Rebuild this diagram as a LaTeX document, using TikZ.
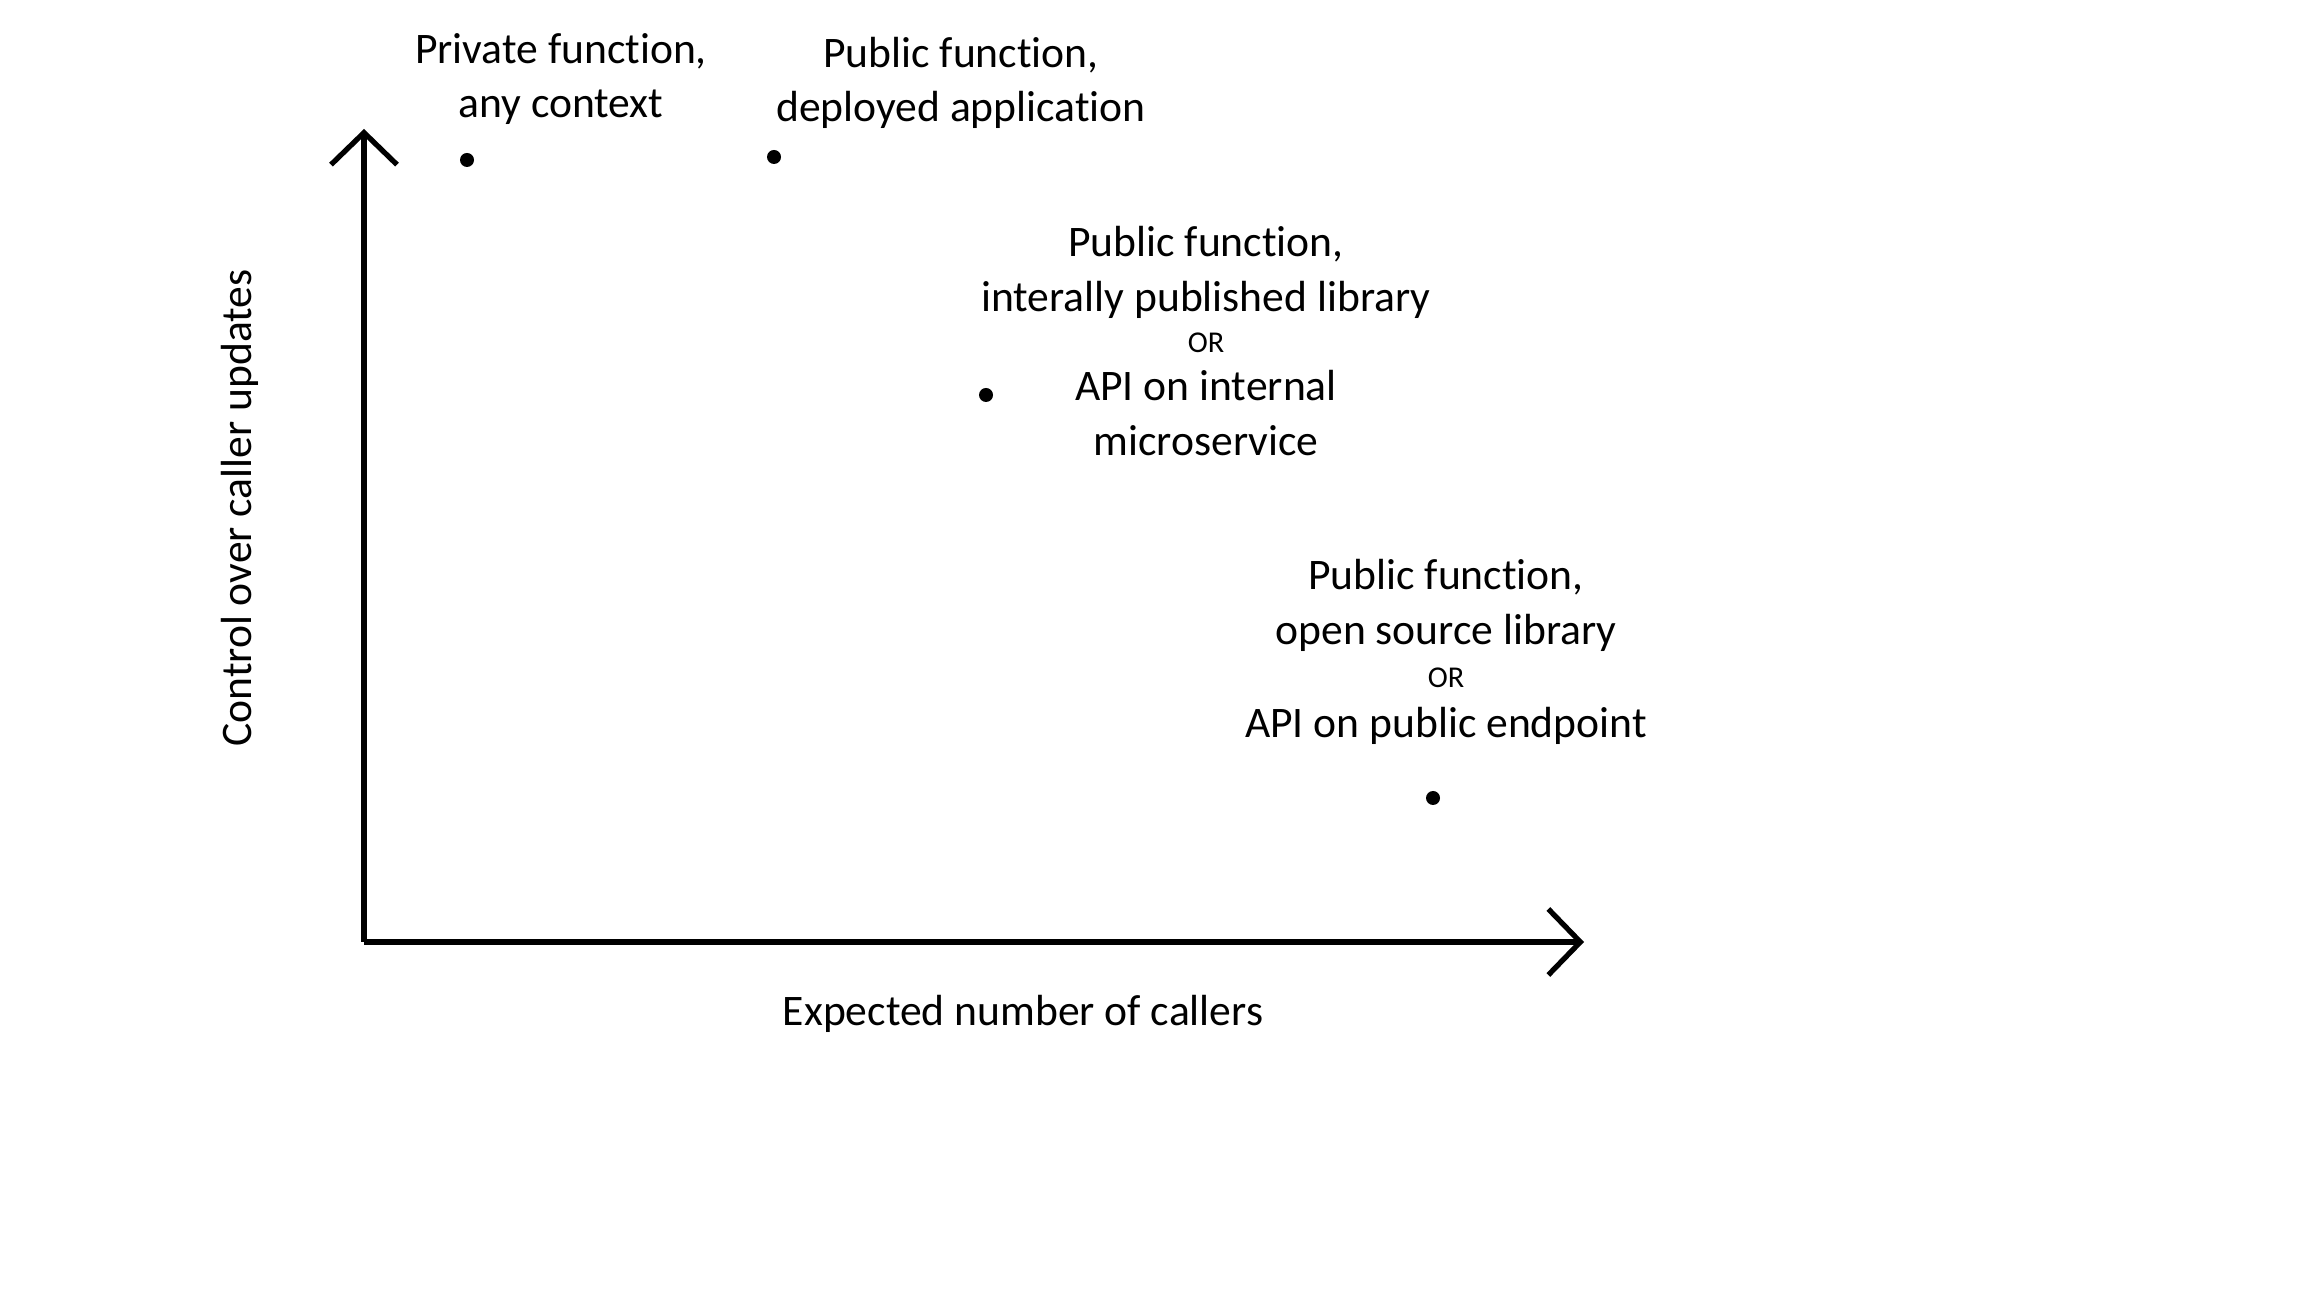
\documentclass[tikz,border=0pt]{standalone}
\usepackage{fontspec}
\setmainfont{Carlito}[Ligatures=NoCommon]
\usetikzlibrary{arrows.meta}

\begin{document}
\begin{tikzpicture}[
    axis/.style={line width=1.5pt, -{Straight Barb[length=3.2mm, width=6.6mm, line width=1.5pt]}},
    dot/.style={circle, fill=black, inner sep=0pt, minimum size=1.4mm},
    lbl/.style={align=center, inner sep=0pt, font=\fontsize{12.4}{15.5}\selectfont}
  ]
    \useasboundingbox (0,0) rectangle (23.04,12.96);

    \coordinate (origin) at (3.64,3.54);
    \coordinate (ytop) at (3.64,11.67);
    \coordinate (xend) at (15.84,3.54);
    \draw[axis] (origin) -- (ytop);
    \draw[axis] (origin) -- (xend);

    \node[lbl] (xlbl) at (10.23,2.82) {Expected number of callers};
    \node[lbl, rotate=90] (ylbl) at (2.40,7.88) {Control over caller updates};

    % points
    \node[dot] (private) at (4.67,11.36) {};
    \node[dot] (deployed) at (7.74,11.39) {};
    \node[dot] (internal) at (9.86,9.01) {};
    \node[dot] (public) at (14.33,4.98) {};

    \node[lbl] (privatelbl) at (5.61,12.17) {Private function,\\any context};
    \node[lbl] (deployedlbl) at (9.61,12.13) {Public function,\\deployed application};
    \node[lbl] (internallbl) at (12.06,9.55) {Public function,\\interally published library\\[-3.8pt]
        {\fontsize{8.6}{10}\selectfont OR}\\[-1.7pt]API on internal\\microservice};
    \node[lbl] (publiclbl) at (14.46,6.44) {Public function,\\open source library\\[-3.2pt]
        {\fontsize{8.6}{10}\selectfont OR}\\[-1.2pt]API on public endpoint};

\end{tikzpicture}
\end{document}
